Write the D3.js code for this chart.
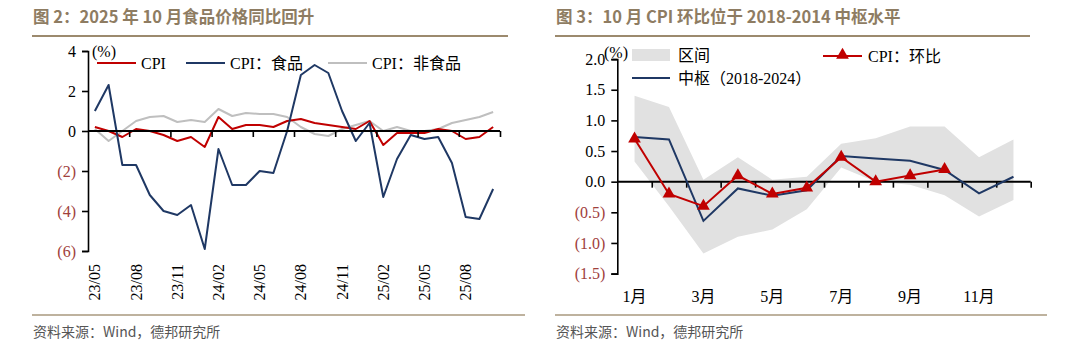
<!DOCTYPE html>
<html>
<head>
<meta charset="utf-8">
<script src="https://cdn.jsdelivr.net/npm/d3@7"></script>
<style>
  body { margin: 0; background: #fff; }
  svg { display: block; }
</style>
</head>
<body>
<div id="zone"></div>
<script>
// ---- données figure 2 (glissement annuel, %)
var mois = ["23/05","23/06","23/07","23/08","23/09","23/10","23/11","23/12",
            "24/01","24/02","24/03","24/04","24/05","24/06","24/07","24/08","24/09","24/10","24/11","24/12",
            "25/01","25/02","25/03","25/04","25/05","25/06","25/07","25/08","25/09","25/10"];
var cpi = [0.2,0.0,-0.3,0.1,0.0,-0.2,-0.5,-0.3,-0.8,0.7,0.1,0.3,0.3,0.2,0.5,0.6,0.4,0.3,0.2,0.1,
           0.5,-0.7,-0.1,-0.1,-0.1,0.1,0.0,-0.4,-0.3,0.2];
var cpiFood = [1.0,2.3,-1.7,-1.7,-3.2,-4.0,-4.2,-3.7,-5.9,-0.9,-2.7,-2.7,-2.0,-2.1,0.0,2.8,3.3,2.9,1.0,-0.5,
               0.4,-3.3,-1.4,-0.2,-0.4,-0.3,-1.6,-4.3,-4.4,-2.9];
var cpiNonFood = [0.1,-0.5,0.0,0.5,0.7,0.75,0.45,0.55,0.45,1.1,0.75,0.9,0.85,0.85,0.7,0.2,-0.15,-0.25,0.1,0.3,
                  0.5,0.0,0.2,0.0,0.0,0.1,0.4,0.55,0.7,0.95];
var ticksFig2 = [-6,-4,-2,0,2,4];
var labelsFig2 = ["23/05","23/08","23/11","24/02","24/05","24/08","24/11","25/02","25/05","25/08"];

// ---- données figure 3 (glissement mensuel, %)
var mois12 = ["1月","2月","3月","4月","5月","6月","7月","8月","9月","10月","11月","12月"];
var zoneHaut = [1.4,1.22,0.03,0.4,0.03,0.08,0.62,0.71,0.9,0.9,0.4,0.69];
var zoneBas = [0.33,-0.4,-1.17,-0.9,-0.78,-0.45,0.23,0.0,-0.05,-0.22,-0.57,-0.3];
var centre = [0.73,0.69,-0.64,-0.11,-0.23,-0.14,0.42,0.38,0.34,0.19,-0.19,0.08];
var cpiMom = [0.7,-0.2,-0.4,0.1,-0.2,-0.1,0.4,0.0,0.1,0.2];
var ticksFig3 = [-1.5,-1.0,-0.5,0.0,0.5,1.0,1.5,2.0];
var labelsFig3 = ["1月","3月","5月","7月","9月","11月"];

var rouge = "#C00000", marine = "#1F3864", gris = "#BFBFBF", zoneGris = "#E1E1E1";
var brun = "#8E7C62", rougeNeg = "#A0403C";
var serif = "'Liberation Serif','Times New Roman','Noto Sans CJK SC',serif";
var cjk = "'Noto Sans CJK SC',sans-serif";

var svg = d3.select("#zone").append("svg")
    .attr("width", 1080)
    .attr("height", 353);
svg.append("rect").attr("width", 1080).attr("height", 353).attr("fill", "#fff");

function fmtNeg(v, dec) {
    var s = Math.abs(v).toFixed(dec);
    return v < 0 ? "(" + s + ")" : s;
}

// titres, filets et sources
function cadre(x0, x1, x2, titre) {
    svg.append("text")
        .attr("x", x0).attr("y", 23)
        .attr("font-family", cjk).attr("font-weight", "bold")
        .attr("font-size", "16.5px").attr("fill", brun)
        .text(titre);
    svg.append("line")
        .attr("x1", x0 - 1).attr("x2", x1).attr("y1", 36).attr("y2", 36)
        .attr("stroke", "#9C8A6E").attr("stroke-width", 2);
    svg.append("line")
        .attr("x1", x0 - 1).attr("x2", x2).attr("y1", 315).attr("y2", 315)
        .attr("stroke", "#A8997E").attr("stroke-width", 1.5);
    svg.append("text")
        .attr("x", x0).attr("y", 337)
        .attr("font-family", cjk).attr("font-size", "14px").attr("fill", "#555")
        .text("资料来源：Wind，德邦研究所");
}
cadre(33, 508, 525, "图 2：2025 年 10 月食品价格同比回升");
cadre(556, 1030, 1047, "图 3：10 月 CPI 环比位于 2018-2014 中枢水平");

// ================= figure 2
var x2 = d3.scaleBand().domain(mois).range([88, 500]).paddingInner(0).paddingOuter(0);
var xi2 = d3.scaleLinear().domain([0, mois.length]).range([88, 500]);
var y2 = d3.scaleLinear().domain([-6, 4]).range([251, 51]);
var cx2 = function (d, i) { return x2(mois[i]) + x2.bandwidth() / 2; };

var g2 = svg.append("g");

var yAxe2 = g2.append("g")
    .attr("transform", "translate(88,0)")
    .call(d3.axisLeft(y2).tickValues(ticksFig2).tickSize(6).tickPadding(6)
        .tickFormat(function (d) { return fmtNeg(d, 0); }));
yAxe2.select(".domain").attr("stroke", "#000").attr("stroke-width", 1.6);
yAxe2.selectAll(".tick line").attr("stroke", "#000").attr("stroke-width", 1.6);
yAxe2.selectAll("text")
    .attr("font-family", serif).attr("font-size", "16px")
    .attr("fill", function (d) { return d < 0 ? rougeNeg : "#000"; });

var lignes2 = [
    {v: cpiNonFood, c: gris},
    {v: cpi, c: rouge},
    {v: cpiFood, c: marine}
];
lignes2.forEach(function (s) {
    g2.append("path")
        .datum(s.v)
        .attr("fill", "none")
        .attr("stroke", s.c)
        .attr("stroke-width", 2)
        .attr("stroke-linejoin", "round")
        .attr("d", d3.line().x(cx2).y(function (d) { return y2(d); }));
});

// axe des abscisses sur le zéro
var xAxe2 = g2.append("g")
    .attr("transform", "translate(0," + y2(0) + ")")
    .call(d3.axisBottom(xi2).tickValues(d3.range(3, mois.length + 1, 3)).tickSize(6).tickFormat(""));
xAxe2.select(".domain").attr("stroke", "#000").attr("stroke-width", 2).attr("d", "M88,0H500");
xAxe2.selectAll(".tick line").attr("stroke", "#000").attr("stroke-width", 1.6);

g2.selectAll(".lab2")
    .data(labelsFig2)
    .enter()
    .append("text")
        .attr("transform", function (d) {
            return "translate(" + (x2(d) + x2.bandwidth() / 2) + ",264) rotate(-90)";
        })
        .attr("text-anchor", "end")
        .attr("dy", "0.35em")
        .attr("font-family", serif).attr("font-size", "16px").attr("fill", "#000")
        .text(function (d) { return d; });

g2.append("text").attr("x", 92).attr("y", 57)
    .attr("font-family", serif).attr("font-size", "16px").text("(%)");

// légende figure 2
var leg2 = [
    {x: 97, c: rouge, t: "CPI"},
    {x: 186, c: marine, t: "CPI：食品"},
    {x: 328, c: gris, t: "CPI：非食品"}
];
leg2.forEach(function (l) {
    g2.append("line").attr("x1", l.x).attr("x2", l.x + 39).attr("y1", 63).attr("y2", 63)
        .attr("stroke", l.c).attr("stroke-width", 2);
    g2.append("text").attr("x", l.x + 44).attr("y", 68.5)
        .attr("font-family", serif).attr("font-size", "16px").text(l.t);
});

// ================= figure 3
var x3 = d3.scaleBand().domain(mois12).range([617.3, 1030.7]).paddingInner(0).paddingOuter(0);
var xi3 = d3.scaleLinear().domain([0, 12]).range([617.3, 1030.7]);
var y3 = d3.scaleLinear().domain([-1.5, 2.0]).range([273.6, 59.1]);
var cx3 = function (d, i) { return x3(mois12[i]) + x3.bandwidth() / 2; };

var g3 = svg.append("g");

g3.append("path")
    .datum(zoneHaut)
    .attr("fill", zoneGris)
    .attr("d", d3.area().x(cx3)
        .y0(function (d, i) { return y3(zoneBas[i]); })
        .y1(function (d) { return y3(d); }));

var yAxe3 = g3.append("g")
    .attr("transform", "translate(617.3,0)")
    .call(d3.axisLeft(y3).tickValues(ticksFig3).tickSize(6).tickPadding(6)
        .tickFormat(function (d) { return fmtNeg(d, 1); }));
yAxe3.select(".domain").attr("stroke", "#000").attr("stroke-width", 1.6);
yAxe3.selectAll(".tick line").attr("stroke", "#000").attr("stroke-width", 1.6);
yAxe3.selectAll("text")
    .attr("font-family", serif).attr("font-size", "16px")
    .attr("fill", function (d) { return d < 0 ? rougeNeg : "#000"; });

var xAxe3 = g3.append("g")
    .attr("transform", "translate(0," + y3(0) + ")")
    .call(d3.axisBottom(xi3).tickValues(d3.range(1, 13)).tickSize(6).tickFormat(""));
xAxe3.select(".domain").attr("stroke", "#000").attr("stroke-width", 2).attr("d", "M617.3,0H1030.7");
xAxe3.selectAll(".tick line").attr("stroke", "#000").attr("stroke-width", 1.6);

g3.append("path")
    .datum(centre)
    .attr("fill", "none").attr("stroke", marine).attr("stroke-width", 2)
    .attr("d", d3.line().x(cx3).y(function (d) { return y3(d); }));

g3.append("path")
    .datum(cpiMom)
    .attr("fill", "none").attr("stroke", rouge).attr("stroke-width", 2)
    .attr("d", d3.line().x(cx3).y(function (d) { return y3(d); }));

var tri = d3.symbol().type(d3.symbolTriangle).size(70);
g3.selectAll(".tri")
    .data(cpiMom)
    .enter()
    .append("path")
        .attr("d", tri)
        .attr("fill", rouge)
        .attr("transform", function (d, i) { return "translate(" + cx3(d, i) + "," + y3(d) + ")"; });

g3.selectAll(".lab3")
    .data(labelsFig3)
    .enter()
    .append("text")
        .attr("x", function (d) { return x3(d) + x3.bandwidth() / 2; })
        .attr("y", 302)
        .attr("text-anchor", "middle")
        .attr("font-family", serif).attr("font-size", "16px")
        .text(function (d) { return d; });

g3.append("text").attr("x", 604).attr("y", 58)
    .attr("font-family", serif).attr("font-size", "16px").text("(%)");

// légende figure 3
g3.append("rect").attr("x", 632).attr("y", 49).attr("width", 38).attr("height", 12).attr("fill", zoneGris);
g3.append("text").attr("x", 678).attr("y", 60.5).attr("font-family", serif).attr("font-size", "16px").text("区间");
g3.append("line").attr("x1", 632).attr("x2", 670).attr("y1", 78).attr("y2", 78)
    .attr("stroke", marine).attr("stroke-width", 2);
g3.append("text").attr("x", 678).attr("y", 83.5).attr("font-family", serif).attr("font-size", "16px").text("中枢（2018-2024）");
g3.append("line").attr("x1", 823).attr("x2", 862).attr("y1", 56).attr("y2", 56)
    .attr("stroke", rouge).attr("stroke-width", 2);
g3.append("path").attr("d", tri).attr("fill", rouge).attr("transform", "translate(842.5,55)");
g3.append("text").attr("x", 868).attr("y", 61.5).attr("font-family", serif).attr("font-size", "16px").text("CPI：环比");
</script>
</body>
</html>
